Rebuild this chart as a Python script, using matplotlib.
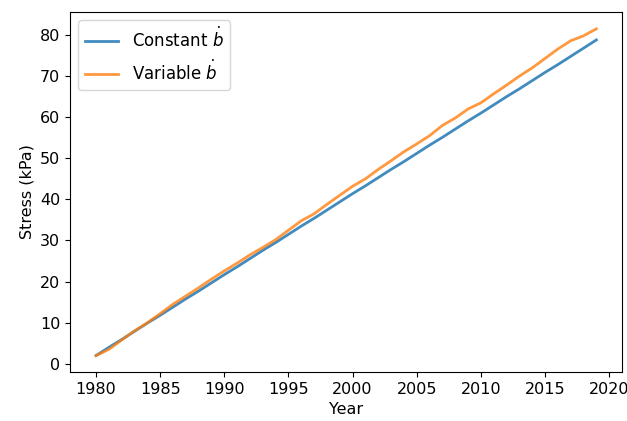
import matplotlib
matplotlib.use("Agg")
import matplotlib.pyplot as plt

years = list(range(1980, 2020))

constant_b = [2.0, 4.0, 5.9, 7.9, 9.9, 11.8, 13.8, 15.8, 17.7, 19.7,
              21.7, 23.6, 25.6, 27.6, 29.5, 31.5, 33.5, 35.4, 37.4, 39.4,
              41.4, 43.3, 45.3, 47.3, 49.2, 51.2, 53.2, 55.1, 57.1, 59.1,
              61.0, 63.0, 65.0, 66.9, 68.9, 70.9, 72.8, 74.8, 76.8, 78.8]

variable_b = [2.0, 3.5, 5.8, 8.0, 10.0, 12.2, 14.5, 16.5, 18.5, 20.6,
              22.6, 24.5, 26.5, 28.3, 30.2, 32.5, 34.8, 36.5, 38.8, 41.0,
              43.2, 45.0, 47.3, 49.4, 51.6, 53.5, 55.5, 58.0, 59.8, 62.0,
              63.5, 65.7, 67.8, 70.0, 72.0, 74.3, 76.6, 78.6, 79.8, 81.5]

plt.rcParams['font.size'] = 11.5

fig, ax = plt.subplots(figsize=(6.27, 4.21), dpi=100)
fig.subplots_adjust(left=70 / 627, right=622 / 627, top=1 - 12 / 421, bottom=1 - 372 / 421)

ax.plot(years, constant_b, color='tab:blue', alpha=0.85, linewidth=2.0, label=r'Constant $\dot{b}$')
ax.plot(years, variable_b, color='tab:orange', alpha=0.8, linewidth=2.0, label=r'Variable $\dot{b}$')

ax.set_xlabel('Year')
ax.set_ylabel('Stress (kPa)')
ax.set_xticks(range(1980, 2021, 5))
ax.set_xlim(1977.97, 2021.0)
ax.set_ylim(-2.0, 85.6)
ax.legend(loc='upper left', fontsize=12)

fig.savefig('out.png', dpi=100)
